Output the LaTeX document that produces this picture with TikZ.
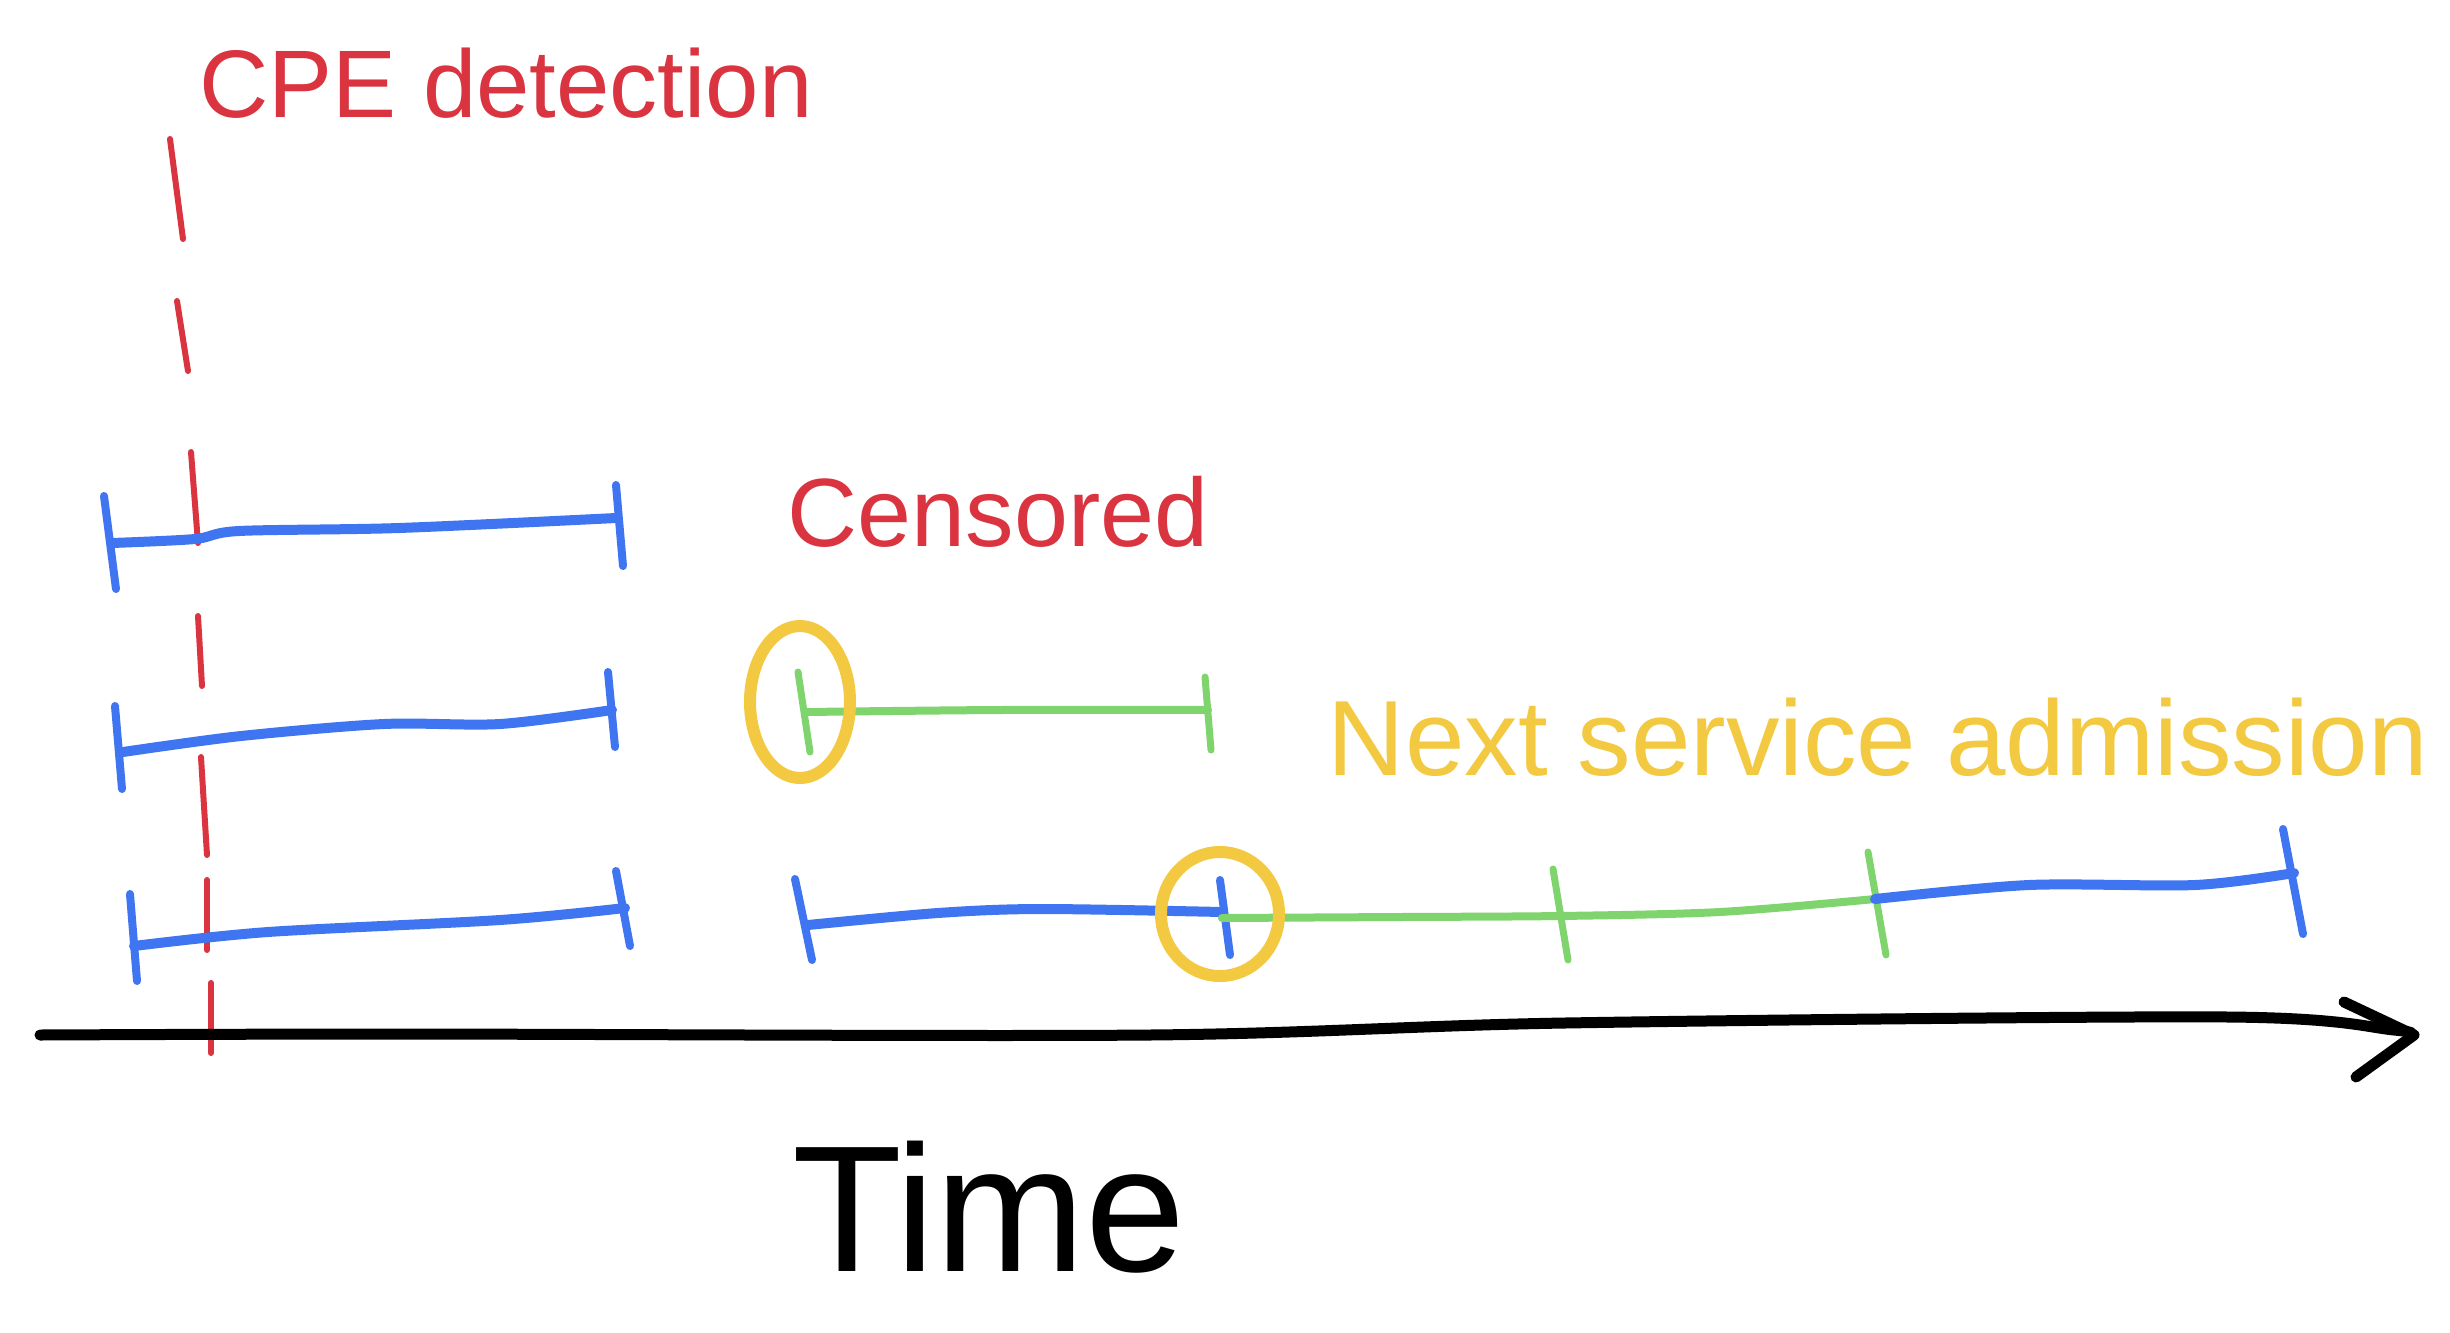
\documentclass[tikz,border=0pt]{standalone}
\usepackage{fontspec}
\setmainfont{Liberation Sans}
\definecolor{cred}{HTML}{D9343F}
\definecolor{cblue}{HTML}{3F75F1}
\definecolor{cgreen}{HTML}{7FD46E}
\definecolor{cyellow}{HTML}{F2C940}
\begin{document}
\begin{tikzpicture}[x=1pt,y=-1pt, line cap=round, line join=round,
  bluebar/.style={draw=cblue, line width=10pt},
  bluetick/.style={draw=cblue, line width=8pt},
  greenbar/.style={draw=cgreen, line width=8pt},
  greentick/.style={draw=cgreen, line width=7pt},
  ring/.style={draw=cyellow, line width=12pt},
  dashseg/.style={draw=cred, line width=6pt},
  axisline/.style={draw=black, line width=11pt},
  lbl/.style={inner sep=0pt, anchor=center}]
\useasboundingbox (0,0) rectangle (2450,1333);

% labels
\node[lbl, text=cred, font=\fontsize{96}{100}\selectfont] (cpe) at (506,83) {CPE detection};
\node[lbl, text=cred, font=\fontsize{97}{100}\selectfont] (cens) at (998,512) {Censored};
\node[lbl, text=cyellow, font=\fontsize{107}{110}\selectfont] (nsa) at (1878,737) {Next service admission};
\node[lbl, text=black, font=\fontsize{180}{185}\selectfont] (time) at (989,1207) {Time};

% red dashed detection line
\path[dashseg] (170,139) -- (183,239);
\path[dashseg] (177,301) -- (188,371);
\path[dashseg] (191,452) -- (198,543);
\path[dashseg] (198,616) -- (202,686);
\path[dashseg] (201,757) -- (207,855);
\path[dashseg] (207,880) -- (207,950);
\path[dashseg] (211,983) -- (211,1053);

% row 1
\path[bluebar] plot[smooth] coordinates {(112,543) (195,539) (239,531) (399,528) (616,518)};
\path[bluetick] (104,496) -- (116,589);
\path[bluetick] (616,485) -- (623,566);

% row 2
\path[bluebar] plot[smooth] coordinates {(123,752) (241,736) (384,724) (500,724) (612,710)};
\path[bluetick] (115,706) -- (122,789);
\path[bluetick] (608,672) -- (615,747);
\path[greenbar] plot[smooth] coordinates {(806,712) (1000,710) (1208,710)};
\path[greentick] (798,672) -- (810,752);
\path[greentick] (1205,677) -- (1211,750);
\path[ring] (800,702) ellipse [x radius=50, y radius=76];

% row 3
\path[bluebar] plot[smooth] coordinates {(134,946) (268,932) (500,920) (625,908)};
\path[bluetick] (130,894) -- (137,981);
\path[bluetick] (616,871) -- (630,946);
\path[bluebar] plot[smooth] coordinates {(808,925) (938,913) (1040,909) (1222,912)};
\path[bluetick] (795,879) -- (812,960);
\path[bluetick] (1220,880) -- (1230,955);
\path[greenbar] plot[smooth] coordinates {(1222,918) (1400,917) (1560,916) (1720,912) (1875,899)};
\path[greentick] (1553,869) -- (1568,960);
\path[greentick] (1868,852) -- (1886,955);
\path[bluebar] plot[smooth] coordinates {(1875,899) (2029,885) (2195,885) (2294,873)};
\path[bluetick] (2283,829) -- (2303,934);
\path[ring] (1220,914) ellipse [x radius=59, y radius=62];

% time axis
\path[axisline] plot[smooth] coordinates {(40,1035) (400,1034) (1150,1035) (1565,1023) (2228,1017) (2394,1030) (2410,1034)};
\coordinate (tip) at (2414,1035);
\path[axisline] (2344,1002) -- (tip) -- (2356,1077);
\end{tikzpicture}
\end{document}
